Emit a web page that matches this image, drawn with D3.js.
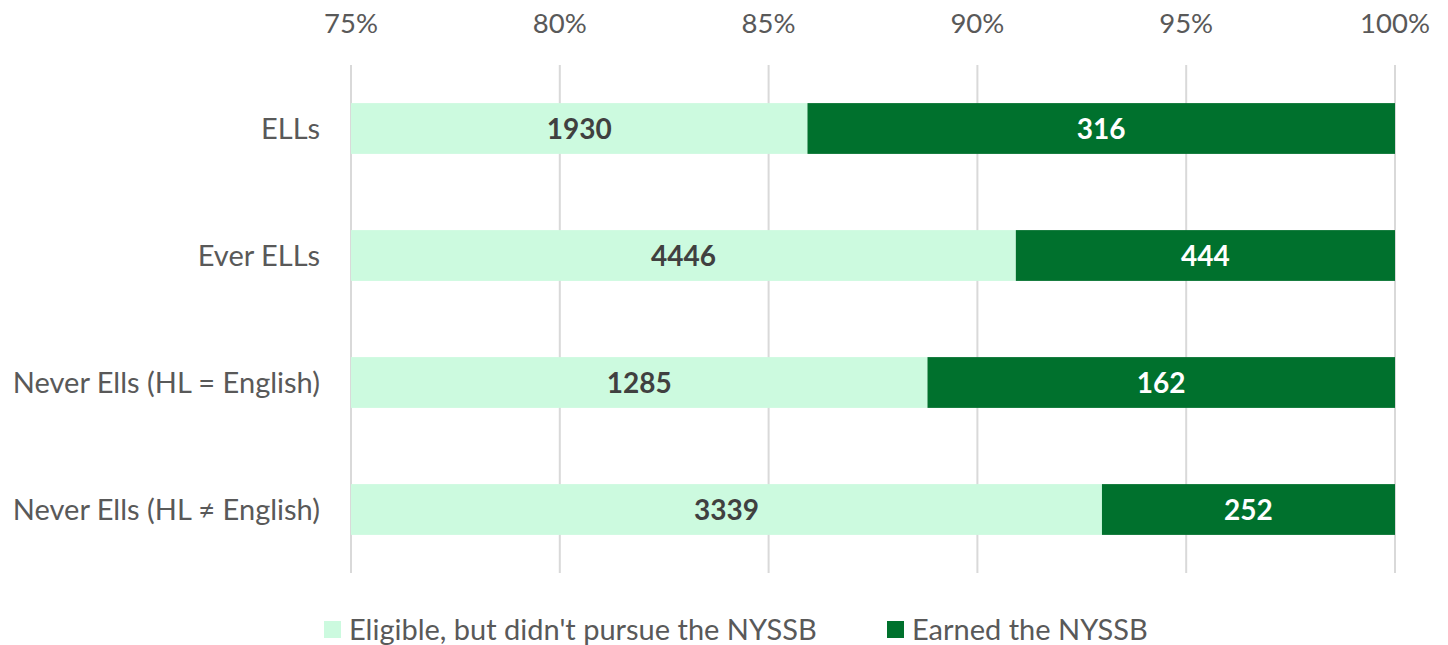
<!DOCTYPE html>
<html>
<head>
<meta charset="utf-8">
<script src="https://cdn.jsdelivr.net/npm/d3@7"></script>
<style>
  body { margin: 0; background: #fff; }
  svg { display: block; font-family: Lato, "Noto Sans", sans-serif; }
</style>
</head>
<body>
<svg></svg>
<script>
const categories = ["ELLs", "Ever ELLs", "Never Ells (HL = English)", "Never Ells (HL \u2260 English)"];
const eligible = [1930, 4446, 1285, 3339];
const earned = [316, 444, 162, 252];
const seriesNames = ["Eligible, but didn't pursue the NYSSB", "Earned the NYSSB"];
const tickValues = [0.75, 0.80, 0.85, 0.90, 0.95, 1.00];

const width = 1448, height = 645;
const svg = d3.select("svg").attr("width", width).attr("height", height);

const x = d3.scaleLinear().domain([0.75, 1]).range([351, 1395]);
const y = d3.scaleBand().domain(categories).range([65, 573]).paddingInner(0.6).paddingOuter(0.3);

const colors = ["#ccfadf", "#00712d"];

// gridlines
svg.append("g")
    .selectAll("line")
    .data(tickValues)
    .enter()
    .append("line")
    .attr("x1", d => x(d)).attr("x2", d => x(d))
    .attr("y1", 65).attr("y2", 573)
    .attr("stroke", "#d9d9d9")
    .attr("stroke-width", 2);

// top axis labels
svg.append("g")
    .selectAll("text")
    .data(tickValues)
    .enter()
    .append("text")
    .attr("x", d => x(d))
    .attr("y", 33)
    .attr("text-anchor", "middle")
    .attr("fill", "#595959")
    .style("font-size", "27.5px")
    .text(d => d3.format(".0%")(d));

const rows = categories.map((c, i) => {
    const total = eligible[i] + earned[i];
    return { cat: c, a: eligible[i], b: earned[i], split: eligible[i] / total };
});

const bars = svg.append("g");
// eligible segment (clipped to axis minimum)
bars.selectAll(".elig")
    .data(rows)
    .enter()
    .append("rect")
    .attr("x", x(0.75))
    .attr("y", d => y(d.cat))
    .attr("width", d => x(d.split) - x(0.75))
    .attr("height", y.bandwidth())
    .attr("fill", colors[0]);

bars.selectAll(".earn")
    .data(rows)
    .enter()
    .append("rect")
    .attr("x", d => x(d.split))
    .attr("y", d => y(d.cat))
    .attr("width", d => x(1) - x(d.split))
    .attr("height", y.bandwidth())
    .attr("fill", colors[1]);

// value labels
bars.selectAll(".lblA")
    .data(rows)
    .enter()
    .append("text")
    .attr("x", d => (x(0.75) + x(d.split)) / 2)
    .attr("y", d => y(d.cat) + y.bandwidth() / 2)
    .attr("dy", "0.36em")
    .attr("text-anchor", "middle")
    .attr("fill", "#404040")
    .style("font-size", "28px")
    .style("font-weight", "bold")
    .text(d => d.a);

bars.selectAll(".lblB")
    .data(rows)
    .enter()
    .append("text")
    .attr("x", d => (x(d.split) + x(1)) / 2)
    .attr("y", d => y(d.cat) + y.bandwidth() / 2)
    .attr("dy", "0.36em")
    .attr("text-anchor", "middle")
    .attr("fill", "#ffffff")
    .style("font-size", "28px")
    .style("font-weight", "bold")
    .text(d => d.b);

// category labels
svg.append("g")
    .selectAll("text")
    .data(categories)
    .enter()
    .append("text")
    .attr("x", 320)
    .attr("y", d => y(d) + y.bandwidth() / 2)
    .attr("dy", "0.36em")
    .attr("text-anchor", "end")
    .attr("fill", "#595959")
    .style("font-size", "29px")
    .text(d => d);

// legend
const legendX = [324, 887];
const legend = svg.append("g")
    .selectAll("g")
    .data(seriesNames)
    .enter()
    .append("g")
    .attr("transform", (d, i) => `translate(${legendX[i]},621)`);

legend.append("rect")
    .attr("width", 17).attr("height", 17)
    .attr("fill", (d, i) => colors[i]);

legend.append("text")
    .attr("x", 25)
    .attr("y", 9)
    .attr("dy", "0.36em")
    .attr("fill", "#595959")
    .style("font-size", "29px")
    .text(d => d);
</script>
</body>
</html>
